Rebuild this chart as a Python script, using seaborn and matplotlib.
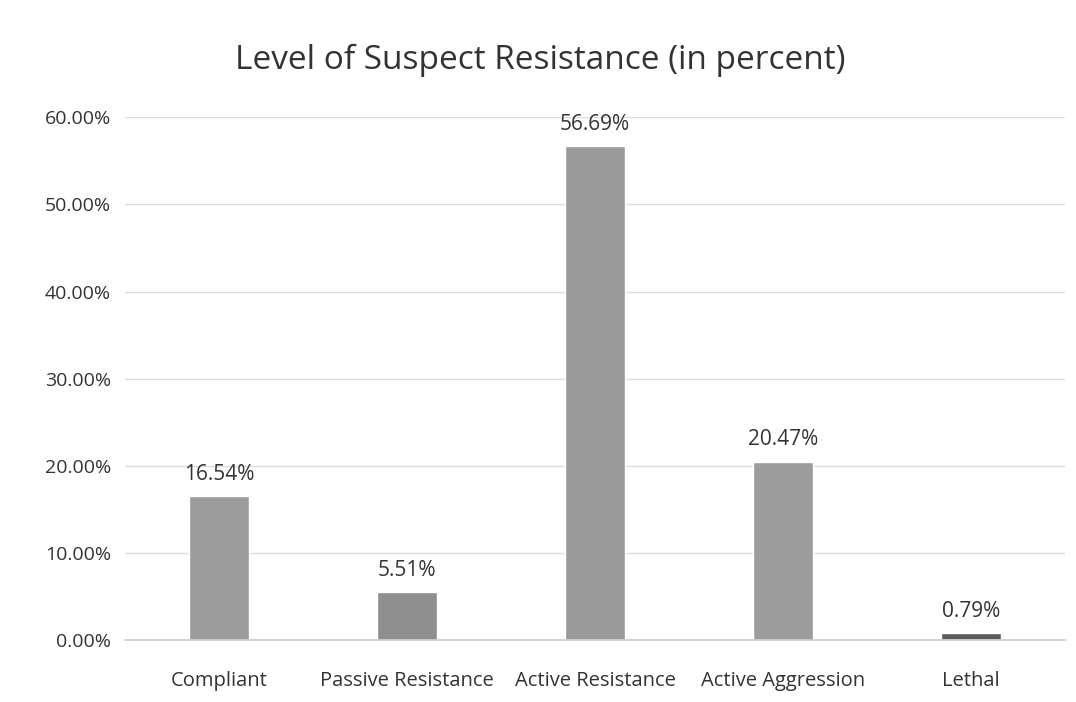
import matplotlib
matplotlib.use("Agg")
import matplotlib.pyplot as plt
import seaborn as sns
import pandas as pd
from matplotlib.ticker import PercentFormatter

# Data
categories = ["Compliant", "Passive Resistance", "Active Resistance", "Active Aggression", "Lethal"]
percent = [16.54, 5.51, 56.69, 20.47, 0.79]
bar_colors = ["#9c9c9c", "#8f8f8f", "#9a9a9a", "#9c9c9c", "#5a5a5a"]

df = pd.DataFrame({"category": categories, "share": [p / 100 for p in percent]})

sns.set_theme(style="white")
plt.rcParams["font.family"] = ["Open Sans", "DejaVu Sans"]

fig = plt.figure(figsize=(10.76, 7.02), dpi=100)
ax = fig.add_axes([0.116, 0.088, 0.874, 0.745])

sns.barplot(data=df, x="category", y="share", hue="category", palette=bar_colors,
            width=0.32, legend=False, ax=ax, saturation=1)

for i, p in enumerate(percent):
    ax.text(i, p / 100 + 0.013, f"{p:.2f}%", ha="center", va="bottom", fontsize=15, color="#333333")

ax.set_ylim(0, 0.6)
ax.set_xlim(-0.5, 4.5)
ax.set_yticks([0, 0.1, 0.2, 0.3, 0.4, 0.5, 0.6])
ax.yaxis.set_major_formatter(PercentFormatter(1.0, decimals=2))
ax.tick_params(axis="y", labelsize=14, colors="#333333", length=0, pad=10)
ax.tick_params(axis="x", labelsize=14.5, colors="#333333", length=0, pad=22)
ax.set_xlabel("")
ax.set_ylabel("")
ax.grid(axis="y", color="#dcdcdc", linewidth=1)
ax.set_axisbelow(True)
for s in ["top", "right", "left"]:
    ax.spines[s].set_visible(False)
ax.spines["bottom"].set_color("#cfcfcf")

fig.text(0.502, 0.914, "Level of Suspect Resistance (in percent)", ha="center", va="center",
         fontsize=24, color="#333333")

fig.savefig("out.png", dpi=100)
